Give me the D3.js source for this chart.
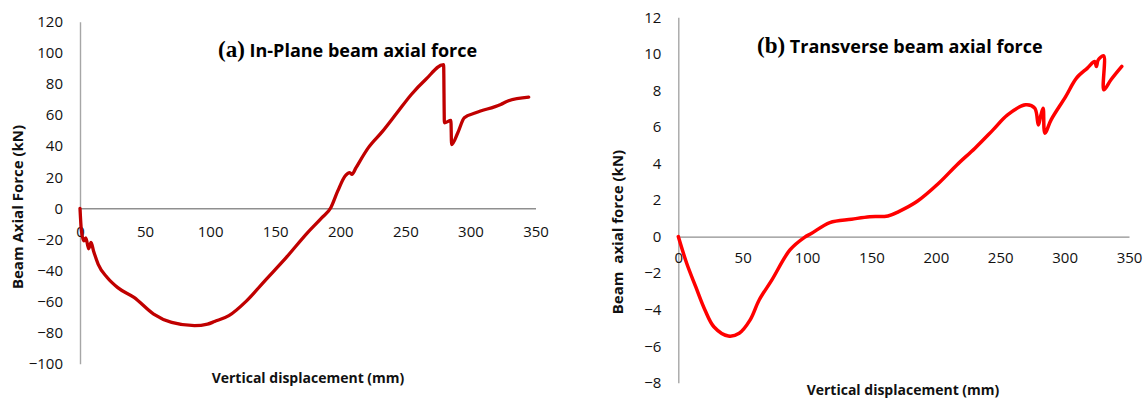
<!DOCTYPE html>
<html>
<head>
<meta charset="utf-8">
<script src="https://cdn.jsdelivr.net/npm/d3@7"></script>
<style>
  body { margin: 0; background: #fff; }
  svg { display: block; }
  text { font-family: "Open Sans", "Liberation Sans", sans-serif; }
</style>
</head>
<body>
<svg id="chart" width="1148" height="401"></svg>
<script>
// (a) in-plane beam axial force
var inPlaneDisp = [0, 1.1, 3, 4.5, 6.6, 8.5, 10.4, 14, 20.9, 29, 41.5, 56.6, 70.4, 88, 98, 103.4, 114.4,
    128, 142, 158.4, 174.9, 185.9, 192.7, 198, 203.7, 207.3, 209, 212, 221.6, 232.6, 243.6, 254.6,
    265.6, 279.4, 280, 285, 285.5, 290.3, 295.3, 304, 323.3, 328.8, 344.8];
var inPlaneForce = [0, -14.5, -21, -19, -26, -22, -27.4, -36, -44.5, -51, -57.3, -68, -73.4, -75.5, -74.5, -72.8, -69,
    -59.5, -46.6, -31.7, -15.6, -6, 0.4, 11, 20.8, 23, 21.8, 26, 39, 49.6, 61.4, 73.2,
    82.8, 92.4, 55, 56.5, 41, 48.6, 58.2, 61.4, 66.8, 69, 71.5];

// (b) transverse beam axial force
var transDisp = [0, 6.5, 13.5, 20.6, 27.6, 38.9, 47.3, 55.8, 62.8, 72.7, 86.7, 98, 103.6, 117.7, 134.6,
    148.7, 162.8, 171.2, 185.3, 202.2, 216.3, 230.4, 244.4, 255.7, 269.8, 276.8, 279.6, 281.6, 283.3,
    284.7, 289.5, 300.8, 309.2, 317.7, 323.3, 324.7, 326.1, 330.3, 330.5, 336, 344.4];
var transForce = [0, -1.46, -2.74, -4.0, -4.93, -5.44, -5.29, -4.56, -3.47, -2.37, -0.73, -0.04, 0.18, 0.77, 0.95,
    1.09, 1.13, 1.37, 1.92, 2.92, 3.92, 4.84, 5.84, 6.66, 7.21, 7.03, 6.11, 6.66, 7.03,
    5.66, 6.39, 7.66, 8.67, 9.22, 9.58, 9.31, 9.67, 9.89, 8.03, 8.58, 9.31];

var xTicks = [0, 50, 100, 150, 200, 250, 300, 350];
var yTicksA = [-100, -80, -60, -40, -20, 0, 20, 40, 60, 80, 100, 120];
var yTicksB = [-8, -6, -4, -2, 0, 2, 4, 6, 8, 10, 12];

var svg = d3.select("#chart");
svg.append("rect").attr("width", 1148).attr("height", 401).attr("fill", "#fff");

var drawPanel = function (p) {
    var g = svg.append("g");
    var x = d3.scaleLinear().domain([0, 350]).range(p.xRange);
    var y = d3.scaleLinear().domain(p.yDomain).range(p.yRange);

    // y axis (line at x = 0)
    var ya = g.append("g")
        .attr("transform", "translate(" + x(0) + ",0)")
        .call(d3.axisLeft(y).tickValues(p.yTicks).tickSize(0).tickPadding(17).tickSizeOuter(0));
    ya.select(".domain").attr("stroke", "#a6a6a6").attr("stroke-width", 1.4);
    ya.selectAll("text").attr("font-size", 15).attr("fill", "#111");

    // x axis sits on the zero line
    var xa = g.append("g")
        .attr("transform", "translate(0," + y(0) + ")")
        .call(d3.axisBottom(x).tickValues(xTicks).tickSize(0).tickPadding(p.xPad).tickSizeOuter(0));
    xa.select(".domain").attr("stroke", "#8f8f8f").attr("stroke-width", 1.4);
    xa.selectAll("text").attr("font-size", 15).attr("fill", "#111");

    var pts = p.xs.map(function (d, i) { return [d, p.ys[i]]; });
    var line = d3.line()
        .x(function (d) { return x(d[0]); })
        .y(function (d) { return y(d[1]); })
        .curve(p.curve);
    g.append("path")
        .datum(pts)
        .attr("d", line)
        .attr("fill", "none")
        .attr("stroke", p.color)
        .attr("stroke-width", p.width)
        .attr("stroke-linejoin", "round")
        .attr("stroke-linecap", "round");

    // titles
    var t = g.append("text")
        .attr("x", p.titleX).attr("y", p.titleY)
        .attr("font-weight", "bold");
    t.append("tspan")
        .attr("font-family", "'Liberation Serif', 'DejaVu Serif', serif")
        .attr("font-size", 23)
        .text(p.tag);
    t.append("tspan")
        .attr("font-size", 18)
        .text(" " + p.title);

    g.append("text")
        .attr("x", p.xTitle[0]).attr("y", p.xTitle[1])
        .attr("text-anchor", "middle")
        .attr("font-weight", "bold")
        .attr("font-size", 14)
        .attr("fill", "#111")
        .attr("dy", "0.35em")
        .text("Vertical displacement (mm)");

    g.append("text")
        .attr("transform", "translate(" + p.yTitle[0] + "," + p.yTitle[1] + ") rotate(-90)")
        .attr("text-anchor", "middle")
        .attr("font-weight", "bold")
        .attr("font-size", 15)
        .attr("fill", "#111")
        .attr("dy", "0.35em")
        .style("white-space", "pre")
        .text(p.yLabel);
};

drawPanel({
    xs: inPlaneDisp, ys: inPlaneForce, curve: d3.curveMonotoneX,
    xRange: [80, 535.5], yDomain: [-100, 120], yRange: [363.8, 21.7],
    yTicks: yTicksA, xPad: 18.5,
    color: "#c00000", width: 3.3,
    tag: "(a)", title: "In-Plane beam axial force", titleX: 218, titleY: 57,
    xTitle: [308, 378], yTitle: [18, 207], yLabel: "Beam Axial Force (kN)"
});

drawPanel({
    xs: transDisp, ys: transForce, curve: d3.curveCatmullRom.alpha(0.5),
    xRange: [678.3, 1129], yDomain: [-8, 12], yRange: [382.8, 17.3],
    yTicks: yTicksB, xPad: 16,
    color: "#ff0000", width: 3.5,
    tag: "(b)", title: "Transverse beam axial force", titleX: 757, titleY: 53,
    xTitle: [903, 390], yTitle: [618, 232], yLabel: "Beam  axial force (kN)"
});
</script>
</body>
</html>
